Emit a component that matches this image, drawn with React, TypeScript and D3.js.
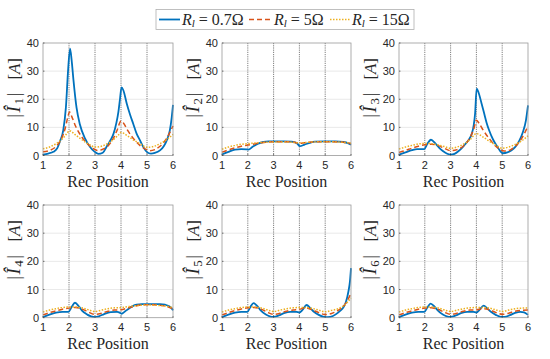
import React from 'react';
import * as d3 from 'd3';

// x positions run from 1 to 6 (Rec Position), values in A
const xTicks = [1, 2, 3, 4, 5, 6];
const yTicks = [0, 10, 20, 30, 40];
const seriesNames = ['R_l = 0.7Ω', 'R_l = 5Ω', 'R_l = 15Ω'];
const seriesLabels = [
  { pre: 'R', sub: 'l', post: ' = 0.7Ω' },
  { pre: 'R', sub: 'l', post: ' = 5Ω' },
  { pre: 'R', sub: 'l', post: ' = 15Ω' },
];

const i1Blue = [[1,0.3],[1.2,0.7],[1.4,1.3],[1.55,2.6],[1.65,5],[1.78,9],[1.88,17],[1.97,31],[2.04,38],[2.1,34],[2.17,27],[2.29,17],[2.42,11],[2.62,6],[2.81,3],[3.0,1.2],[3.13,0.6],[3.3,1],[3.45,3.2],[3.6,5.5],[3.71,7.7],[3.82,11.5],[3.9,15.5],[3.96,20],[4.02,24.2],[4.09,23.2],[4.22,18.5],[4.35,14.5],[4.47,11.3],[4.6,7.8],[4.73,5.4],[4.87,2.8],[5.0,1.2],[5.15,0.7],[5.3,0.9],[5.5,1.8],[5.65,3.4],[5.76,5.4],[5.88,9],[5.95,13.5],[6,18]];
const i1Orange = [[1,1.3],[1.25,1.8],[1.5,3.2],[1.7,5.8],[1.85,9.5],[1.95,13.5],[2.02,15.5],[2.1,14],[2.25,10.5],[2.5,6.5],[2.75,3.8],[3.0,2.1],[3.1,1.8],[3.3,2.2],[3.5,3.4],[3.7,6],[3.85,9],[4.0,12.3],[4.1,11.5],[4.25,9],[4.5,5.8],[4.75,3.4],[5.0,2],[5.1,1.7],[5.3,2.1],[5.5,3.3],[5.75,6],[6,10.5]];
const i1Yellow = [[1,2.4],[1.25,3],[1.5,4.2],[1.75,6],[1.9,7.6],[2.02,8.8],[2.25,7.3],[2.5,5.6],[2.75,4.1],[3.0,3.0],[3.25,3.3],[3.5,4.3],[3.75,6],[3.9,7.3],[4.0,8.2],[4.25,7],[4.5,5.4],[4.75,4.1],[5.0,2.9],[5.25,3.2],[5.5,4.2],[5.75,5.6],[6,7.5]];

const i2Blue = [[1,0.4],[1.25,1.3],[1.5,2.1],[1.75,2.3],[1.95,2.2],[2.02,2.1],[2.2,3.2],[2.4,4.2],[2.6,4.8],[2.8,5],[3,5],[3.4,5],[3.7,4.9],[3.9,4.4],[4.02,3.3],[4.2,3.9],[4.4,4.5],[4.6,4.9],[5,5],[5.4,5],[5.7,4.8],[5.9,4.3],[6,3.8]];
const i2Orange = [[1,1.2],[1.25,2],[1.5,2.7],[1.75,3.3],[2,3.7],[2.25,4.1],[2.5,4.5],[2.75,4.8],[3,4.9],[3.5,4.9],[3.8,4.7],[4,4.3],[4.2,4.5],[4.5,4.8],[5,4.9],[5.5,4.8],[5.8,4.6],[6,4.2]];
const i2Yellow = [[1,2.2],[1.25,3],[1.5,3.6],[1.75,4],[2,4.2],[2.5,4.6],[3,4.8],[3.5,4.8],[3.8,4.6],[4,4.5],[4.25,4.6],[4.5,4.8],[5,4.9],[5.5,4.8],[6,4.4]];

const i3Blue = [[1,0.3],[1.25,1.1],[1.5,1.9],[1.7,2.3],[1.98,2.3],[2.1,4.2],[2.24,5.6],[2.4,4.4],[2.55,2.8],[2.7,1.6],[2.85,0.7],[3.0,0.3],[3.15,0.6],[3.3,1.5],[3.47,3],[3.6,4.4],[3.7,5.5],[3.82,7.7],[3.9,11],[3.95,15],[4.01,23.8],[4.08,22.5],[4.2,18.5],[4.3,15],[4.4,11.5],[4.5,8.8],[4.65,5.6],[4.8,3.3],[4.93,1.5],[5.03,0.8],[5.2,1.1],[5.35,1.8],[5.5,3],[5.66,5.2],[5.8,8.3],[5.92,12.5],[6,17.8]];
const i3Orange = [[1,1.1],[1.25,1.8],[1.5,2.6],[1.75,3.3],[2,3.8],[2.25,4.0],[2.5,3.6],[2.75,2.6],[3,1.7],[3.25,2.1],[3.5,3.4],[3.75,6.3],[3.9,9.5],[4.0,12.5],[4.1,11.5],[4.25,9.2],[4.5,6],[4.75,3.3],[5,1.8],[5.15,1.6],[5.35,2.2],[5.5,3.2],[5.75,6],[6,10.5]];
const i3Yellow = [[1,2.3],[1.25,3],[1.5,3.6],[1.75,4.1],[2,4.3],[2.25,4.2],[2.5,3.8],[2.75,3.2],[3,2.6],[3.25,3.0],[3.5,4],[3.75,5.6],[4,7.8],[4.25,6.6],[4.5,5.1],[4.75,3.7],[5,2.6],[5.25,3],[5.5,3.9],[5.75,5.2],[6,7]];

const i4Blue = [[1,0.2],[1.25,1.1],[1.5,1.8],[1.75,2.1],[1.98,2.1],[2.1,3.8],[2.23,5.3],[2.38,4],[2.5,2.5],[2.7,1.1],[2.85,0.5],[3,0.2],[3.15,0.5],[3.35,1.3],[3.6,2],[3.85,2.1],[3.95,1.8],[4.02,1.4],[4.15,2.2],[4.3,3.2],[4.45,4.1],[4.6,4.6],[4.8,4.8],[5.2,4.8],[5.5,4.8],[5.7,4.6],[5.85,4.1],[5.95,3.3],[6,2.6]];
const i4Orange = [[1,1.0],[1.25,1.8],[1.5,2.4],[1.75,3],[2,3.4],[2.25,3.6],[2.5,3.1],[2.75,2],[3,1.2],[3.25,1.6],[3.5,2.3],[3.75,2.7],[4,2.8],[4.25,3.4],[4.5,4],[4.75,4.5],[5,4.6],[5.25,4.6],[5.5,4.4],[5.75,4],[6,3.2]];
const i4Yellow = [[1,2],[1.25,2.7],[1.5,3.2],[1.75,3.6],[2,3.8],[2.25,3.8],[2.5,3.5],[2.75,2.8],[3,2.2],[3.25,2.7],[3.5,3.2],[3.75,3.5],[4,3.6],[4.25,3.9],[4.5,4.2],[5,4.5],[5.5,4.3],[5.75,4.1],[6,3.6]];

const i5Blue = [[1,0.2],[1.25,1.1],[1.5,1.8],[1.75,2.1],[1.98,2.1],[2.1,3.8],[2.22,5.2],[2.38,4],[2.5,2.6],[2.7,1.1],[2.85,0.5],[3,0.3],[3.2,0.8],[3.4,1.6],[3.65,2.1],[3.88,2.1],[4.0,1.8],[4.12,2.8],[4.28,4.5],[4.42,3.4],[4.55,2.2],[4.75,1],[4.95,0.3],[5.1,0.2],[5.3,0.6],[5.5,1.8],[5.6,2.6],[5.7,3.6],[5.8,5.5],[5.9,9.3],[5.96,13],[6,17.6]];
const i5Orange = [[1,1.0],[1.25,1.8],[1.5,2.5],[1.75,3.1],[2,3.5],[2.25,3.6],[2.5,3.1],[2.75,2],[3,1.2],[3.25,1.6],[3.5,2.3],[3.75,2.7],[4,3],[4.25,3.5],[4.5,2.8],[4.75,1.8],[5,1.1],[5.25,1.5],[5.5,2.6],[5.75,4.5],[5.9,6.8],[6,8.7]];
const i5Yellow = [[1,2],[1.25,2.7],[1.5,3.2],[1.75,3.6],[2,3.8],[2.25,3.8],[2.5,3.5],[2.75,2.8],[3,2.2],[3.25,2.7],[3.5,3.2],[3.75,3.5],[4,3.6],[4.25,3.6],[4.5,3.3],[4.75,2.7],[5,2.1],[5.25,2.6],[5.5,3.2],[5.75,4.5],[6,7]];

const i6Blue = [[1,0.2],[1.25,1.1],[1.5,1.8],[1.75,2.1],[1.98,2.1],[2.1,3.6],[2.22,5.0],[2.38,3.9],[2.5,2.6],[2.7,1.1],[2.85,0.5],[3,0.3],[3.2,0.8],[3.4,1.6],[3.65,2.1],[3.88,2.1],[4.0,1.8],[4.12,2.8],[4.28,4.3],[4.42,3.3],[4.55,2.2],[4.75,1],[4.95,0.3],[5.1,0.3],[5.3,0.9],[5.5,1.7],[5.7,2.1],[5.85,1.9],[6,1.0]];
const i6Orange = [[1,1],[1.25,1.8],[1.5,2.4],[1.75,3],[2,3.4],[2.25,3.5],[2.5,3],[2.75,2],[3,1.2],[3.25,1.6],[3.5,2.3],[3.75,2.7],[4,2.8],[4.25,3.2],[4.5,2.8],[4.75,1.9],[5,1.2],[5.25,1.6],[5.5,2.3],[5.75,2.6],[6,2.7]];
const i6Yellow = [[1,2],[1.25,2.7],[1.5,3.2],[1.75,3.6],[2,3.8],[2.25,3.8],[2.5,3.5],[2.75,2.8],[3,2.2],[3.25,2.7],[3.5,3.2],[3.75,3.5],[4,3.6],[4.25,3.6],[4.5,3.4],[4.75,2.8],[5,2.2],[5.25,2.7],[5.5,3.2],[5.75,3.4],[6,3.5]];

const panels = [
  { idx: '1', data: [i1Blue, i1Orange, i1Yellow] },
  { idx: '2', data: [i2Blue, i2Orange, i2Yellow] },
  { idx: '3', data: [i3Blue, i3Orange, i3Yellow] },
  { idx: '4', data: [i4Blue, i4Orange, i4Yellow] },
  { idx: '5', data: [i5Blue, i5Orange, i5Yellow] },
  { idx: '6', data: [i6Blue, i6Orange, i6Yellow] },
];

const colors = ['#0072BD', '#D95319', '#EDB120'];
const dashes = [null, '5,3', '1.5,1.5'];
const widths = [1.8, 1.5, 1.5];

const W = 550;
const H = 359;
const colLeft = [43, 222, 399];
const colRight = [173, 351, 528];
const rowTop = [43, 205];
const rowBottom = [155.5, 317.7];

const serif = 'Liberation Serif';
const sans = 'Liberation Sans';

const Panel = ({ p, i }: any) => {
  const col = i % 3;
  const row = Math.floor(i / 3);
  const x = d3.scaleLinear().domain([1, 6]).range([colLeft[col], colRight[col]]);
  const y = d3.scaleLinear().domain([0, 40]).range([rowBottom[row], rowTop[row]]);
  const line = d3.line<any>().x((d) => x(d[0])).y((d) => y(d[1])).curve(d3.curveMonotoneX);
  const x0 = colLeft[col], x1 = colRight[col], y0 = rowTop[row], y1 = rowBottom[row];
  const cx = (x0 + x1) / 2;
  const cy = (y0 + y1) / 2 - 9;
  const tickBase = y1 + 13;
  return (
    <g>
      <rect x={x0} y={y0} width={x1 - x0} height={y1 - y0} fill="#fff" />
      {yTicks.slice(1, -1).map((t) => (
        <line key={'h' + t} x1={x0} x2={x1} y1={y(t)} y2={y(t)} stroke="#e3e3e3" strokeWidth={0.8} />
      ))}
      {xTicks.slice(1, -1).map((t) => (
        <line key={'v' + t} x1={x(t)} x2={x(t)} y1={y0} y2={y1} stroke="#707070" strokeWidth={0.9} strokeDasharray="1.2,1" />
      ))}
      {p.data.map((s: any, k: number) => (
        <path key={k} d={line(s) as string} fill="none" stroke={colors[k]} strokeWidth={widths[k]}
          strokeDasharray={dashes[k] || undefined} />
      ))}
      <rect x={x0} y={y0} width={x1 - x0} height={y1 - y0} fill="none" stroke="#9a9a9a" strokeWidth={0.8} />
      {xTicks.map((t) => (
        <g key={'xt' + t}>
          <line x1={x(t)} x2={x(t)} y1={y1} y2={y1 - 1.5} stroke="#262626" strokeWidth={0.6} />
          <text x={x(t)} y={tickBase} textAnchor="middle" fontFamily={sans} fontSize={11} fill="#262626">{t}</text>
        </g>
      ))}
      {yTicks.map((t) => (
        <g key={'yt' + t}>
          <line x1={x0} x2={x0 + 1.5} y1={y(t)} y2={y(t)} stroke="#262626" strokeWidth={0.6} />
          <text x={x0 - 4} y={y(t) + 4} textAnchor="end" fontFamily={sans} fontSize={11} fill="#262626">{t}</text>
        </g>
      ))}
      <text x={cx} y={y1 + 31} textAnchor="middle" fontFamily={serif} fontWeight="normal" fontSize={16} fill="#262626">Rec Position</text>
      <g transform={`translate(${x0 - 23},${cy}) rotate(-90)`} fontFamily={serif} fontWeight="normal" fill="#262626">
        <text x={-15} textAnchor="middle" fontSize={19} textLength={25} lengthAdjust="spacing">
          <tspan>|</tspan>
          <tspan fontStyle="italic">Î</tspan>
          <tspan fontSize={13} dy={3}>{p.idx}</tspan>
          <tspan dy={-3}>|</tspan>
        </text>
        <text x={21.5} textAnchor="middle" fontSize={17} textLength={21.5} lengthAdjust="spacing">
          <tspan>[</tspan>
          <tspan fontStyle="italic">A</tspan>
          <tspan>]</tspan>
        </text>
      </g>
    </g>
  );
};

const Legend = () => {
  const ly = 19.5;
  const lineX = [[159, 180], [249, 271], [330, 350]];
  const textX = [182, 274, 352];
  return (
    <g>
      <rect x={156} y={9.5} width={258} height={20} fill="#fff" stroke="#b0b0b0" strokeWidth={0.8} />
      {seriesLabels.map((s, k) => (
        <g key={seriesNames[k]}>
          <line x1={lineX[k][0]} x2={lineX[k][1]} y1={ly} y2={ly} stroke={colors[k]} strokeWidth={widths[k]}
            strokeDasharray={dashes[k] || undefined} />
          <text x={textX[k]} y={ly + 5} fontFamily={serif} fontWeight="normal" fontSize={16} fill="#262626">
            <tspan fontStyle="italic">{s.pre}</tspan>
            <tspan fontStyle="italic" fontSize={11} dy={2.5}>{s.sub}</tspan>
            <tspan dy={-2.5}>{s.post}</tspan>
          </text>
        </g>
      ))}
    </g>
  );
};

const App = () => {
  return (
    <svg width={W} height={H} style={{ position: 'absolute', left: 0, top: 0, background: '#fff' }}>
      <rect width={W} height={H} fill="#fff" />
      {panels.map((p, i) => (
        <Panel key={p.idx} p={p} i={i} />
      ))}
      <Legend />
    </svg>
  );
};

export default App;
